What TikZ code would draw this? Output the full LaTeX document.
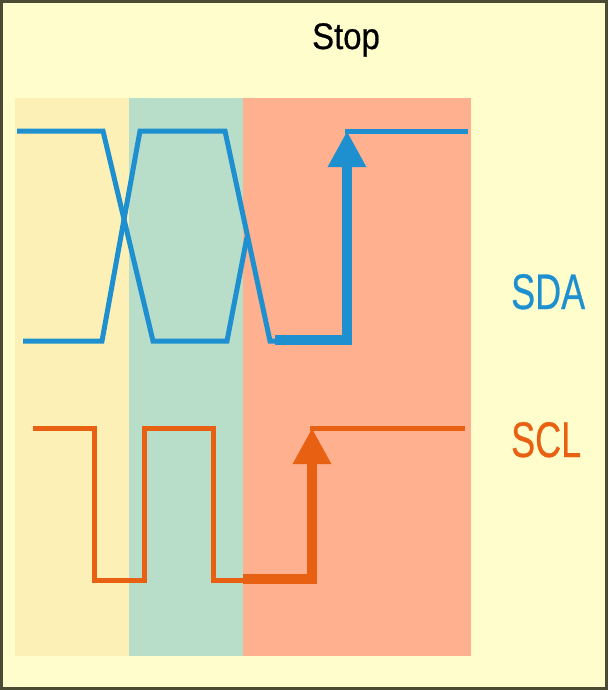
\documentclass[tikz,border=0pt]{standalone}
\usepackage{fontspec}
\setmainfont{Liberation Sans}
\newfontfamily\labelfont[FakeBold=0.6]{Liberation Sans}
\usetikzlibrary{arrows.meta}
\definecolor{bgyellow}{RGB}{255,253,204}
\definecolor{frame}{RGB}{75,74,50}
\definecolor{panelA}{RGB}{253,240,182}
\definecolor{panelB}{RGB}{184,222,201}
\definecolor{panelC}{RGB}{255,176,142}
\definecolor{sdablue}{RGB}{30,144,208}
\definecolor{sclorange}{RGB}{232,96,18}
\tikzset{
  thinwave/.style={line width=5pt, line join=miter},
  thickwave/.style={line width=9.5pt, line join=miter, -{Triangle[width=36pt,length=36pt]}},
  label/.style={inner sep=0pt, anchor=base west, font=\labelfont\fontsize{50}{50}\selectfont, xscale=0.72}
}
\begin{document}
\begin{tikzpicture}[x=1pt,y=-1pt]
\useasboundingbox (0,0) rectangle (608,690);
\fill[bgyellow] (0,0) rectangle (608,690);
\draw[frame, line width=3pt] (1.5,1.5) rectangle (606.5,688.5);
% panels
\fill[panelA] (15,98) rectangle (129,656);
\fill[panelB] (129,98) rectangle (243,656);
\fill[panelC] (243,98) rectangle (471,656);
% SDA trace A
\draw[sdablue, thinwave] (17,131) -- (103,131) -- (153,341) -- (227,341) -- (247,237);
% SDA trace B
\draw[sdablue, thinwave] (23,341) -- (102,341) -- (140,131) -- (225,131) -- (270,341) -- (280,341);
\coordinate (sdalow) at (275,340);
\coordinate (sdacorner) at (347,340);
\coordinate (sdahigh) at (347,131);
\draw[sdablue, thickwave] (sdalow) -- (sdacorner) -- (sdahigh);
\draw[sdablue, thinwave] (345,131) -- (468,131);
% SCL
\draw[sclorange, thinwave] (33,428) -- (94,428) -- (94,580) -- (144,580) -- (144,428) -- (213,428) -- (213,580) -- (248,580);
\coordinate (scllow) at (243,579);
\coordinate (sclcorner) at (312,579);
\coordinate (sclhigh) at (312,428);
\draw[sclorange, thickwave] (scllow) -- (sclcorner) -- (sclhigh);
\draw[sclorange, thinwave] (310,428) -- (465,428);
% labels
\node[label, anchor=base, font=\labelfont\fontsize{37}{37}\selectfont, xscale=0.89/0.72] (stop) at (346,49) {Stop};
\node[label, text=sdablue] (sda) at (511,309) {SDA};
\node[label, text=sclorange] (scl) at (511,457) {SCL};
\end{tikzpicture}
\end{document}
